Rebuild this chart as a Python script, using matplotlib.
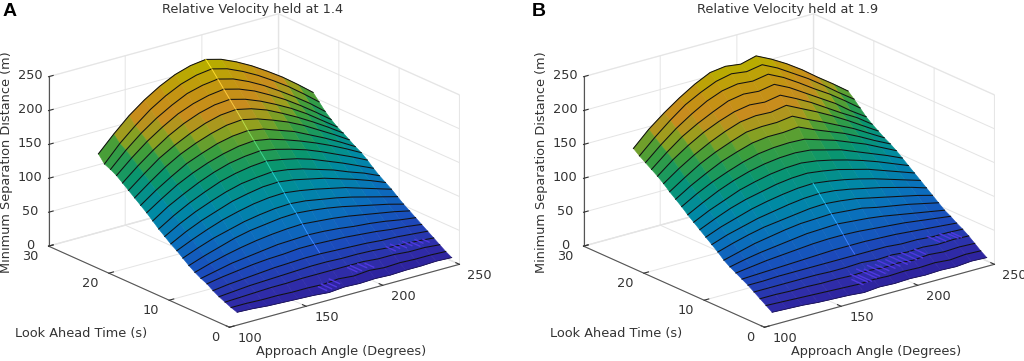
import numpy as np
import matplotlib
matplotlib.use('Agg')
import matplotlib.pyplot as plt
from matplotlib.colors import LinearSegmentedColormap

approach_angles = [105, 115, 125, 135, 145, 155, 165, 175, 185, 195, 205, 215, 225, 235, 245]
look_ahead_times = list(range(24))

# one row per look ahead time
sep_dist_a = [
    [19, 18, 16, 15, 14, 13, 11, 13, 12, 13, 12, 13, 13, 14, 13],
    [22, 22, 21, 21, 20, 20, 19, 21, 19, 21, 19, 20, 19, 19, 18],
    [26, 27, 28, 29, 29, 30, 30, 30, 30, 30, 28, 28, 26, 26, 24],
    [30, 32, 34, 35, 36, 37, 38, 38, 37, 37, 36, 34, 33, 32, 30],
    [35, 38, 40, 42, 44, 45, 46, 46, 45, 44, 43, 41, 40, 38, 36],
    [41, 45, 48, 51, 53, 54, 56, 56, 55, 54, 52, 50, 47, 45, 42],
    [45, 50, 55, 58, 61, 64, 65, 66, 65, 63, 60, 58, 55, 51, 48],
    [50, 57, 63, 68, 72, 75, 77, 78, 76, 74, 71, 67, 63, 59, 54],
    [56, 64, 71, 78, 83, 86, 89, 90, 88, 85, 81, 76, 71, 66, 60],
    [63, 72, 80, 86, 92, 96, 99, 100, 98, 94, 90, 85, 79, 73, 67],
    [70, 80, 89, 97, 103, 108, 111, 112, 109, 105, 100, 95, 88, 81, 74],
    [76, 88, 98, 106, 114, 119, 123, 124, 121, 116, 111, 104, 97, 89, 80],
    [83, 96, 107, 116, 124, 130, 133, 135, 132, 127, 120, 113, 104, 96, 86],
    [90, 104, 116, 126, 135, 141, 145, 147, 143, 138, 131, 122, 113, 103, 93],
    [98, 113, 125, 136, 145, 152, 156, 158, 154, 148, 141, 132, 122, 112, 101],
    [106, 121, 135, 146, 155, 162, 167, 169, 165, 158, 150, 141, 131, 120, 108],
    [113, 129, 143, 156, 165, 173, 178, 180, 176, 168, 160, 149, 138, 126, 113],
    [120, 137, 153, 166, 176, 184, 190, 192, 187, 179, 170, 159, 146, 133, 119],
    [127, 145, 162, 175, 186, 195, 201, 203, 198, 190, 179, 167, 154, 140, 125],
    [134, 153, 170, 185, 197, 206, 212, 214, 208, 199, 188, 176, 162, 146, 130],
    [141, 161, 179, 194, 207, 216, 222, 225, 219, 210, 198, 185, 170, 154, 137],
    [146, 168, 187, 203, 216, 227, 233, 236, 230, 220, 208, 194, 179, 163, 145],
    [150, 174, 194, 212, 226, 237, 244, 247, 241, 231, 219, 205, 190, 173, 155],
    [161, 184, 205, 222, 236, 247, 254, 257, 251, 241, 229, 215, 200, 183, 165],
]

sep_dist_b = [
    [19, 18, 17, 15, 14, 13, 11, 13, 12, 13, 12, 13, 12, 14, 13],
    [25, 24, 23, 22, 21, 20, 19, 20, 19, 20, 19, 20, 18, 20, 19],
    [31, 31, 30, 30, 29, 29, 28, 29, 27, 28, 26, 28, 26, 27, 26],
    [37, 37, 37, 37, 37, 36, 36, 37, 35, 36, 34, 35, 33, 34, 33],
    [43, 43, 44, 44, 44, 44, 44, 44, 44, 44, 42, 42, 40, 40, 39],
    [48, 49, 50, 51, 52, 53, 54, 54, 54, 53, 52, 50, 48, 46, 44],
    [53, 56, 59, 61, 63, 65, 66, 66, 65, 63, 61, 59, 56, 53, 50],
    [58, 63, 67, 70, 73, 76, 77, 78, 76, 74, 71, 67, 63, 59, 55],
    [64, 70, 76, 80, 84, 87, 88, 89, 87, 85, 80, 76, 72, 67, 62],
    [72, 79, 85, 90, 93, 96, 99, 100, 98, 95, 90, 85, 80, 75, 69],
    [79, 87, 93, 99, 103, 107, 110, 111, 109, 105, 100, 95, 89, 83, 76],
    [86, 95, 102, 109, 114, 118, 121, 122, 119, 115, 110, 104, 97, 90, 83],
    [93, 103, 112, 119, 124, 129, 132, 133, 130, 126, 120, 114, 106, 98, 90],
    [100, 111, 120, 129, 135, 140, 143, 144, 141, 136, 130, 123, 115, 106, 97],
    [107, 119, 130, 139, 146, 151, 154, 155, 153, 147, 141, 132, 123, 114, 104],
    [115, 128, 139, 148, 156, 162, 165, 166, 165, 158, 151, 142, 133, 122, 111],
    [122, 136, 148, 159, 167, 174, 177, 177, 179, 169, 160, 151, 140, 128, 117],
    [129, 144, 158, 169, 178, 186, 188, 188, 191, 180, 170, 159, 148, 135, 122],
    [137, 153, 167, 179, 189, 197, 200, 199, 203, 192, 181, 169, 156, 142, 128],
    [144, 162, 177, 190, 200, 208, 212, 210, 214, 203, 191, 177, 163, 150, 134],
    [150, 169, 186, 199, 210, 220, 224, 222, 226, 215, 201, 187, 173, 156, 141],
    [156, 176, 194, 209, 222, 231, 235, 233, 237, 226, 212, 197, 183, 167, 150],
    [162, 183, 202, 219, 231, 241, 246, 243, 247, 236, 222, 208, 192, 175, 159],
    [169, 191, 209, 225, 239, 250, 253, 250, 256, 245, 232, 217, 200, 184, 167],
]

# small ripples near the front of each surface
ripple_x_a = [164, 167, 170, 173, 187, 190, 194, 198, 216, 220, 224, 228, 232, 236, 240]
ripple_t0_a = [0.2, 0.1, 0.1, 0.3, 1.0, 1.0, 1.2, 1.0, 2.0, 2.3, 2.2, 2.3, 2.0, 2.5, 2.5]
ripple_t1_a = [1.5, 1.8, 1.5, 2.0, 2.5, 2.8, 2.6, 2.4, 3.5, 3.8, 3.4, 3.8, 3.5, 3.8, 3.5]
ripple_z_a = [14, 15, 16, 18, 24, 24, 25, 24, 33, 33, 32, 32, 30, 30, 29]

ripple_x_b = [165, 168, 171, 174, 177, 181, 185, 189, 193, 197, 201, 205, 209, 213, 226, 230, 234, 238, 241]
ripple_t0_b = [0.2, 0.2, 0.3, 0.3, 0.5, 0.6, 1.0, 1.0, 1.2, 1.0, 1.5, 1.5, 1.5, 2.0, 3.0, 3.0, 3.2, 3.0, 3.2]
ripple_t1_b = [2.0, 3.0, 2.5, 3.5, 3.0, 3.5, 3.2, 3.8, 3.5, 4.0, 3.5, 4.0, 3.6, 3.8, 5.0, 4.6, 5.0, 4.6, 4.8]
ripple_z_b = [22, 24, 23, 26, 26, 27, 27, 28, 28, 29, 28, 29, 29, 30, 36, 35, 35, 34, 33]

x_ticks = [100, 150, 200, 250]
y_ticks = [0, 10, 20, 30]
z_ticks = [0, 50, 100, 150, 200, 250]

plt.rcParams['font.family'] = 'DejaVu Sans'
plt.rcParams['font.size'] = 9.3
plt.rcParams['text.color'] = '#333333'
plt.rcParams['xtick.color'] = '#333333'
plt.rcParams['ytick.color'] = '#333333'
plt.rcParams['axes.edgecolor'] = '#555555'
plt.rcParams['axes.linewidth'] = 0.8
plt.rcParams['grid.color'] = '#e4e4e4'
plt.rcParams['grid.linewidth'] = 0.7

# parula as it looks under the dense black mesh
surf_colors = [(0.00, '#2c1690'), (0.10, '#2f2ca8'), (0.20, '#1a4cbc'), (0.32, '#0a70bc'),
               (0.44, '#008aa4'), (0.56, '#0a966e'), (0.66, '#3c9e3c'), (0.74, '#96a01e'),
               (0.82, '#c88c1e'), (0.90, '#c49214'), (1.00, '#b8ac00')]
cmap = LinearSegmentedColormap.from_list('dark_parula', surf_colors)
ridge_cmap = LinearSegmentedColormap.from_list(
    'ridge', [(pos, tuple(min(1, 1.2 * c + 0.12) for c in matplotlib.colors.to_rgb(col)))
              for pos, col in surf_colors])


def draw_panel(fig, left_px, table, title, letter, letter_x, ridge_rows, ripples):
    side = 480
    ax = fig.add_axes([left_px / 1024, -56 / 361, side / 1024, side / 361], projection='3d',
                      proj_type='ortho', computed_zorder=False)
    ax.view_init(elev=20.5, azim=-128)
    ax.set_box_aspect((292, 294, 181), zoom=0.914)
    ax.patch.set_alpha(0)

    xs = np.array(approach_angles, dtype=float)
    ts = np.array(look_ahead_times, dtype=float)
    zs = np.array(table, dtype=float)
    ridge_col = approach_angles.index(175)

    # paint strips from the far side to the near side so the ridge hides what is behind it
    order = 10
    for i in range(len(ts) - 2, -1, -1):
        x_grid, t_grid = np.meshgrid(xs, ts[i:i + 2])
        z_grid = zs[i:i + 2]
        mean_z = (z_grid[0, :-1] + z_grid[0, 1:] + z_grid[1, :-1] + z_grid[1, 1:]) / 4
        face = cmap(np.clip(mean_z / 250, 0, 1))
        strip = ax.plot_surface(x_grid, t_grid, z_grid, rstride=1, cstride=1, shade=False,
                                facecolors=face[None, :], linewidth=0.4, zorder=order)
        strip.set_edgecolor(face)
        order += 1
        ax.plot(xs, np.full(len(xs), ts[i + 1]), zs[i + 1], color='#111111', lw=0.75, zorder=order)
        order += 1
        if ridge_rows[0] <= i < ridge_rows[1]:
            ax.plot(xs[[ridge_col, ridge_col]], ts[i:i + 2], zs[i:i + 2, ridge_col],
                    color=ridge_cmap(zs[i, ridge_col] / 250), lw=0.7, zorder=order)
            order += 1
    ax.plot(xs, np.full(len(xs), ts[0]), zs[0], color='#1a1050', lw=0.6, zorder=order)
    order += 1
    for x, t0, t1, z in zip(*ripples):
        ax.plot([x, x], [t0, t1], [z, z], color='#5038e0', lw=1.0, zorder=order)

    ax.set_xlim(100, 250)
    ax.set_ylim(0, 30)
    ax.set_zlim(0, 250)
    ax.set_xticks(x_ticks)
    ax.set_yticks(y_ticks)
    ax.set_zticks(z_ticks)
    ax.tick_params(axis='both', pad=0)
    ax.tick_params(axis='z', pad=0)
    for lab in ax.get_xticklabels():
        lab.set_ha('left')
        lab.set_va('center')
    for lab in ax.get_yticklabels():
        lab.set_ha('right')
        lab.set_va('center')
    for lab in ax.get_zticklabels():
        lab.set_va('center')
    for axis in (ax.xaxis, ax.yaxis, ax.zaxis):
        axis.pane.set_facecolor('white')
        axis.pane.set_edgecolor('#e4e4e4')
        axis._axinfo['tick']['inward_factor'] = 0.0
        axis._axinfo['tick']['outward_factor'] = 0.25

    off = left_px - 7.5
    fig.text((253 + off) / 1024, 1 - 9 / 361, title, ha='center', va='center')
    fig.text(letter_x / 1024, 1 - 12 / 361, letter, ha='center', va='center', fontsize=14,
             fontweight='bold', family='Liberation Sans', color='black')
    fig.text((7 + off) / 1024, 1 - 162 / 361, 'Minimum Separation Distance (m)', rotation=90,
             ha='center', va='center')
    fig.text((81 + off) / 1024, 1 - 334 / 361, 'Look Ahead Time (s)', ha='center', va='center')
    fig.text((341 + off) / 1024, 1 - 352 / 361, 'Approach Angle (Degrees)', ha='center', va='center')
    return ax


fig = plt.figure(figsize=(10.24, 3.61), dpi=100)
draw_panel(fig, 7.5, sep_dist_a, 'Relative Velocity held at 1.4', 'A', 10, (4, 23),
           (ripple_x_a, ripple_t0_a, ripple_t1_a, ripple_z_a))
draw_panel(fig, 542.5, sep_dist_b, 'Relative Velocity held at 1.9', 'B', 539, (4, 11),
           (ripple_x_b, ripple_t0_b, ripple_t1_b, ripple_z_b))
fig.savefig('out.png', dpi=100)
